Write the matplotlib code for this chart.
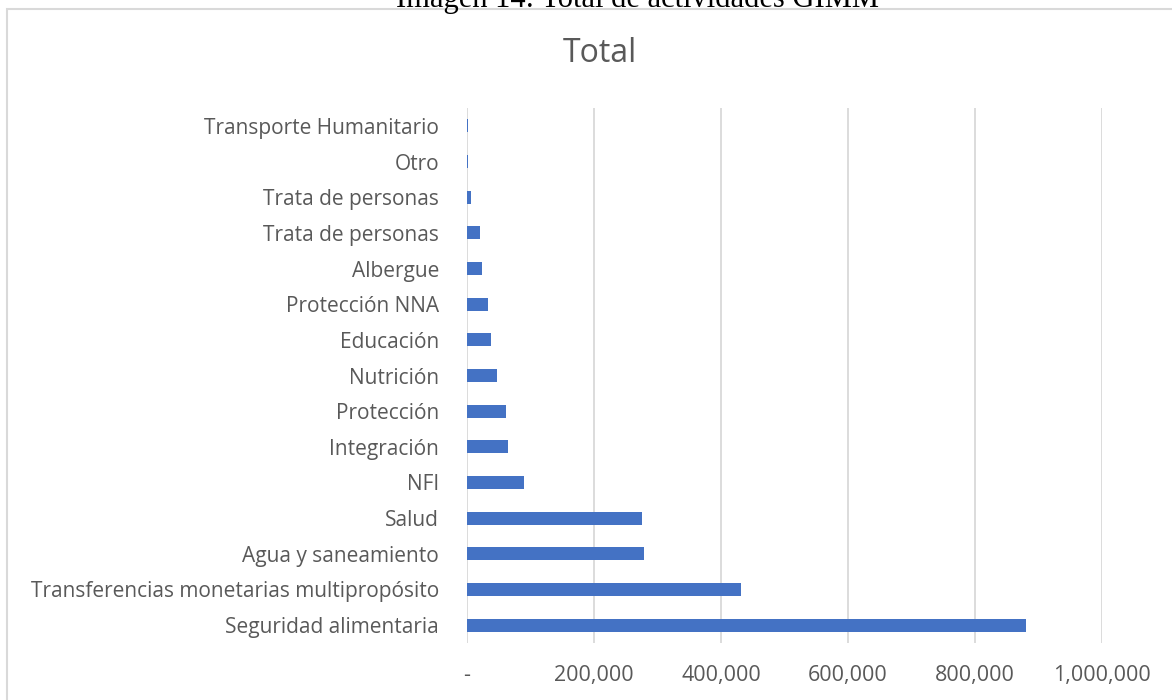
import matplotlib
matplotlib.use("Agg")
import matplotlib.pyplot as plt
from matplotlib.patches import Rectangle
from matplotlib.ticker import FuncFormatter

categories = [
    "Seguridad alimentaria",
    "Transferencias monetarias multipropósito",
    "Agua y saneamiento",
    "Salud",
    "NFI",
    "Integración",
    "Protección",
    "Nutrición",
    "Educación",
    "Protección NNA",
    "Albergue",
    "Trata de personas",
    "Trata de personas",
    "Otro",
    "Transporte Humanitario",
]
values = [881000, 432000, 279500, 276000, 90500, 63800, 61700, 47000,
          37500, 32300, 23900, 20800, 6600, 1500, 1500]
xticks = [0, 200000, 400000, 600000, 800000, 1000000]

W, H = 1172, 700
fig = plt.figure(figsize=(W / 100, H / 100), dpi=100)
fig.patch.set_facecolor("white")

grey_text = "#595959"
bar_color = "#4472C4"

# chart frame
fig.patches.append(Rectangle((6.5 / W, -0.1), 1.2, 1 - 9.5 / H + 0.1,
                             transform=fig.transFigure, fill=False,
                             edgecolor="#D9D9D9", linewidth=1.5))

# caption above the chart frame
fig.text(638 / W, 1 - 7 / H, "Imagen 14: Total de actividades GIMM",
         ha="center", va="baseline", fontsize=22,
         family="Liberation Serif", color="black")

left, right = 467 / W, 1102 / W
top, bottom = 1 - 108 / H, 1 - 643 / H
ax = fig.add_axes([left, bottom, right - left, top - bottom])

y = list(range(len(categories)))
ax.barh(y, values, height=0.36, color=bar_color, zorder=3)
ax.set_ylim(-0.5, len(categories) - 0.5)
ax.set_xlim(0, 1000000)
ax.set_yticks(y)
ax.set_yticklabels(categories)
ax.set_xticks(xticks)
ax.xaxis.set_major_formatter(FuncFormatter(lambda v, p: "-" if v == 0 else f"{int(v):,}"))

ax.grid(axis="x", color="#D9D9D9", linewidth=1.3, zorder=0)
for s in ax.spines.values():
    s.set_visible(False)
ax.tick_params(axis="both", length=0, colors=grey_text)
ax.tick_params(axis="y", pad=20, labelsize=15)
ax.tick_params(axis="x", pad=16, labelsize=15.5)
for lbl in ax.get_yticklabels() + ax.get_xticklabels():
    lbl.set_family("Open Sans")

fig.text(599.5 / W, 1 - 53.5 / H, "Total", ha="center", va="center",
         fontsize=23, color=grey_text, family="Open Sans")

fig.savefig("out.png", dpi=100)
